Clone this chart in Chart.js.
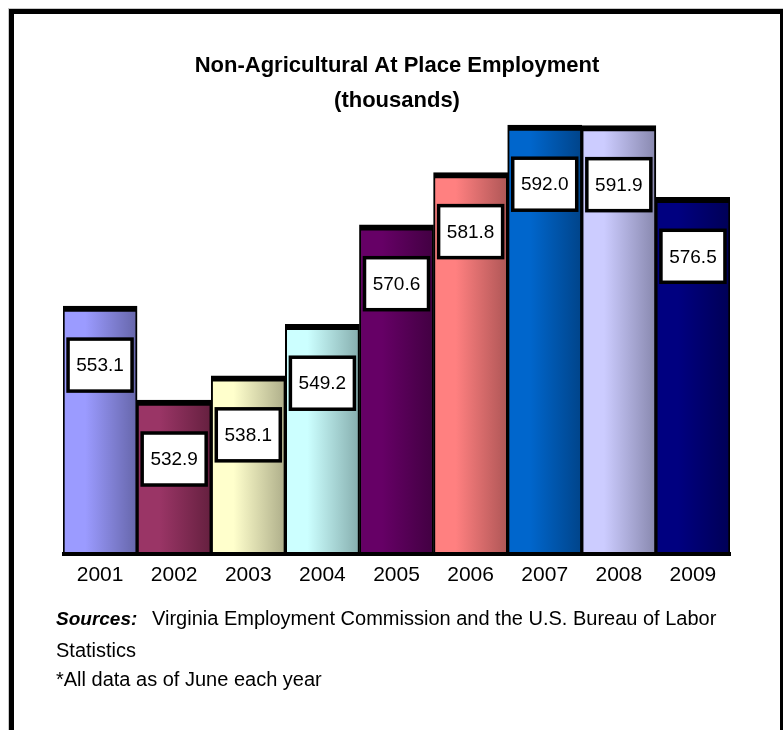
<!DOCTYPE html>
<html>
<head>
<meta charset="utf-8">
<script src="https://cdn.jsdelivr.net/npm/chart.js@4.4.0/dist/chart.umd.min.js"></script>
<style>
  html, body { margin: 0; padding: 0; background: #fff; }
  canvas { display: block; }
</style>
</head>
<body>
<canvas id="emp" width="783" height="730"></canvas>
<script>
'use strict';
// data
const years = ['2001', '2002', '2003', '2004', '2005', '2006', '2007', '2008', '2009'];
const employment = [553.1, 532.9, 538.1, 549.2, 570.6, 581.8, 592.0, 591.9, 576.5];
const lightColors = ['#9b9bff', '#9a3566', '#ffffcc', '#ccffff', '#660066', '#ff8080', '#0066cc', '#ccccff', '#000080'];
const darkColors = ['#6666aa', '#65203f', '#aeae8a', '#86aeae', '#420042', '#ae5656', '#00448a', '#8888ae', '#000056'];
const titleLines = ['Non-Agricultural At Place Employment', '(thousands)'];

const FONT = "'Liberation Sans', Arial, sans-serif";

function barGradient(ctx) {
    const chart = ctx.chart;
    const i = ctx.dataIndex;
    const xs = chart.scales.x;
    if (!chart.chartArea || !xs || i === undefined) return lightColors[i] || '#999';
    const w = xs.width / years.length;
    const cx = xs.getPixelForValue(i);
    const g = chart.ctx.createLinearGradient(cx - w / 2, 0, cx + w / 2, 0);
    g.addColorStop(0, lightColors[i]);
    g.addColorStop(0.3, lightColors[i]);
    g.addColorStop(1, darkColors[i]);
    return g;
}

const decor = {
    id: 'decor',
    beforeDraw(chart) {
        const c = chart.ctx;
        c.save();
        c.fillStyle = '#fff';
        c.fillRect(0, 0, chart.width, chart.height);
        // frame
        c.fillStyle = '#c8c8c8';
        c.fillRect(8, 8, 775, 1);
        c.fillRect(8, 8, 1, 722);
        c.fillStyle = '#000';
        c.fillRect(9, 9, 774, 5);
        c.fillRect(9, 9, 5, 721);
        c.fillRect(780, 9, 3, 721);
        // title
        c.textAlign = 'center';
        c.textBaseline = 'alphabetic';
        c.font = 'bold 22px ' + FONT;
        c.fillText(titleLines[0], 397, 72);
        c.fillText(titleLines[1], 397, 107);
        c.restore();
    },
    afterDatasetsDraw(chart) {
        const c = chart.ctx;
        const meta = chart.getDatasetMeta(0);
        const area = chart.chartArea;
        c.save();
        // axis line
        c.fillStyle = '#000';
        c.fillRect(area.left - 1, area.bottom - 1, area.right - area.left + 2, 4);
        // value boxes
        c.font = '19px ' + FONT;
        c.textAlign = 'center';
        c.textBaseline = 'middle';
        meta.data.forEach(function (bar, i) {
            const bw = 64, bh = 52;
            const x = bar.x - bw / 2;
            const y = bar.y + 33;
            c.fillStyle = '#fff';
            c.fillRect(x, y, bw, bh);
            c.lineWidth = 3.5;
            c.strokeStyle = '#000';
            c.strokeRect(x, y, bw, bh);
            c.fillStyle = '#000';
            c.fillText(employment[i].toFixed(1), bar.x, y + bh / 2 + 1);
        });
        c.restore();
    },
    afterDraw(chart) {
        const c = chart.ctx;
        c.save();
        c.fillStyle = '#000';
        c.textAlign = 'left';
        c.textBaseline = 'alphabetic';
        c.font = 'italic bold 19px ' + FONT;
        c.fillText('Sources:', 56, 625);
        c.font = '20px ' + FONT;
        c.fillText('Virginia Employment Commission and the U.S. Bureau of Labor', 152, 625);
        c.fillText('Statistics', 56, 657);
        c.fillText('*All data as of June each year', 56, 686);
        c.restore();
    }
};

new Chart(document.getElementById('emp'), {
    type: 'bar',
    data: {
        labels: years,
        datasets: [{
            label: 'Employment',
            data: employment,
            backgroundColor: barGradient,
            borderColor: '#000',
            borderWidth: { top: 6, left: 2, right: 2, bottom: 0 },
            borderSkipped: 'start',
            barPercentage: 1,
            categoryPercentage: 1
        }]
    },
    options: {
        responsive: false,
        animation: false,
        devicePixelRatio: 1,
        layout: { padding: { left: 63, right: 53, top: 88, bottom: 137 } },
        plugins: {
            legend: { display: false },
            title: { display: false },
            tooltip: { enabled: false }
        },
        scales: {
            x: {
                grid: { display: false, drawTicks: false },
                border: { display: false },
                ticks: { color: '#000', font: { family: FONT, size: 21 }, padding: 10 },
                afterFit: function (s) { s.height = 40; }
            },
            y: {
                display: false,
                min: 500,
                max: 600
            }
        }
    },
    plugins: [decor]
});
</script>
</body>
</html>
